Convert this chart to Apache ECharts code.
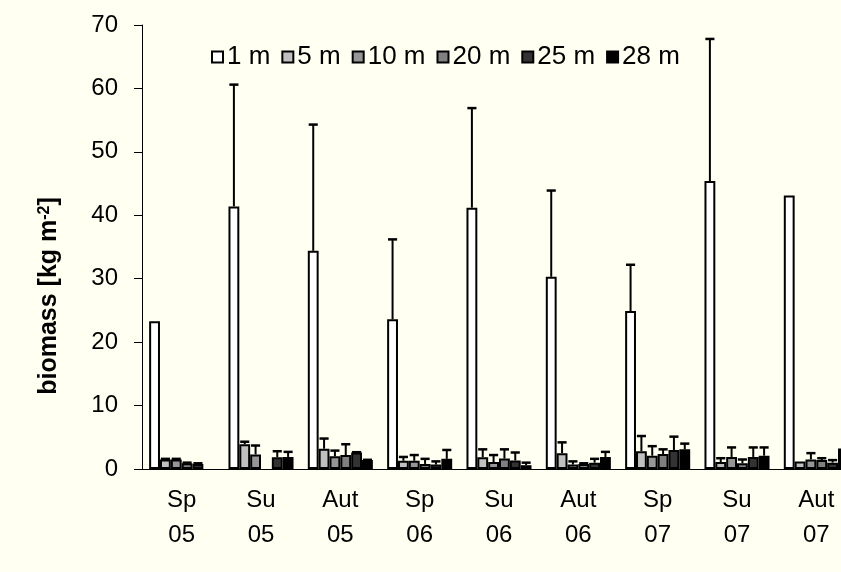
<!DOCTYPE html>
<html>
<head>
<meta charset="utf-8">
<script src="https://cdn.jsdelivr.net/npm/echarts@6/dist/echarts.min.js"></script>
<style>
html,body{margin:0;padding:0;background:#fffff2;overflow:hidden;width:841px;height:572px;}
#c{width:856px;height:572px;}
</style>
</head>
<body>
<div id="c"></div>
<script>
// ---- data ----
const categories = ['Sp\n05','Su\n05','Aut\n05','Sp\n06','Su\n06','Aut\n06','Sp\n07','Su\n07','Aut\n07'];
const depthNames = ['1 m','5 m','10 m','20 m','25 m','28 m'];
const yTicks = [0,10,20,30,40,50,60,70];

const m1  = [23.3, 41.4, 34.4, 23.6, 41.2, 30.3, 24.9, 45.4, 43.1];
const m5  = [1.5, 3.9, 3.2, 1.3, 1.85, 2.5, 2.8, 1.1, 1.2];
const m10 = [1.5, 2.3, 2.0, 1.3, 1.1, 0.7, 2.1, 1.9, 1.5];
const m20 = [0.9, null, 2.2, 0.8, 1.65, 0.8, 2.35, 0.9, 1.4];
const m25 = [0.8, 1.85, 2.6, 0.7, 1.35, 1.0, 3.0, 1.9, 1.0];
const m28 = [null, 1.9, 1.4, 1.6, 0.6, 1.9, 3.1, 2.1, 3.25];

// upper error (SD) for each depth
const e1  = [0, 19.2, 19.9, 12.6, 15.7, 13.6, 7.3, 22.4, 0];
const e5  = [0.1, 0.4, 1.6, 0.6, 1.25, 1.7, 2.4, 0.6, 0];
const e10 = [0.1, 1.4, 0.9, 0.9, 1.1, 0.5, 1.5, 1.5, 1.0];
const e20 = [0.1, null, 1.7, 0.8, 1.45, 0.1, 0.75, 0.6, 0.3];
const e25 = [0.1, 0.95, 0.05, 0.5, 1.25, 0.6, 2.1, 1.5, 0.4];
const e28 = [null, 0.8, 0.05, 1.4, 0.4, 0.8, 0.9, 1.3, 0];

const values = [m1, m5, m10, m20, m25, m28];
const errors = [e1, e5, e10, e20, e25, e28];
const colors = ['#ffffff','#c0c0c0','#969696','#808080','#333333','#000000'];

// ---- chart ----
const GAP = 0.18;
const FONT = '"Liberation Sans", Arial, sans-serif';
const chart = echarts.init(document.getElementById('c'), null, {renderer:'canvas'});

const barSeries = values.map((arr, i) => ({
  name: depthNames[i],
  type: 'bar',
  data: arr.map(v => v == null ? '-' : v),
  barGap: '0%',
  barCategoryGap: (GAP*100) + '%',
  itemStyle: {color: colors[i], borderColor: '#000', borderWidth: 2},
  emphasis: {disabled: true}
}));

const errData = [];
values.forEach((arr, si) => {
  arr.forEach((v, ci) => {
    const e = errors[si][ci];
    if (v != null && e != null && e > 0) errData.push([ci, si, v, e]);
  });
});

function renderErr(params, api) {
  const ci = api.value(0), si = api.value(1), v = api.value(2), e = api.value(3);
  const base = api.coord([ci, v]);
  const top = api.coord([ci, v + e]);
  const band = api.size([1, 0])[0];
  const inner = band * (1 - GAP);
  const bw = inner / 6;
  const x = base[0] - inner / 2 + bw * (si + 0.5);
  const hw = bw * 0.42;
  return {
    type: 'group',
    children: [
      {type:'line', shape:{x1:x, y1:base[1], x2:x, y2:top[1]}, style:{stroke:'#000', lineWidth:2}},
      {type:'line', shape:{x1:x-hw, y1:top[1], x2:x+hw, y2:top[1]}, style:{stroke:'#000', lineWidth:2.5}}
    ]
  };
}

chart.setOption({
  backgroundColor: '#fffff2',
  animation: false,
  textStyle: {fontFamily: FONT, color: '#000'},
  legend: {
    data: depthNames,
    left: 211, top: 44, padding: 0,
    itemWidth: 11, itemHeight: 11, itemGap: 11,
    icon: 'rect',
    textStyle: {fontSize: 26, color: '#000', fontFamily: FONT, padding: [0,0,0,-1]},
    selectedMode: false
  },
  grid: {left: 142, top: 25, right: 0, bottom: 103, containLabel: false},
  xAxis: {
    type: 'category',
    data: categories,
    axisLine: {lineStyle: {color: '#000', width: 1}},
    axisTick: {show: false},
    axisLabel: {interval: 0, fontSize: 24, lineHeight: 35, margin: 14, color: '#000', fontFamily: FONT},
    splitLine: {show: false}
  },
  yAxis: {
    type: 'value',
    min: yTicks[0], max: yTicks[yTicks.length-1], interval: 10,
    axisLine: {show: true, lineStyle: {color: '#000', width: 1}},
    axisTick: {show: true, length: 8, lineStyle: {color: '#000'}},
    axisLabel: {fontSize: 24, margin: 24, color: '#000', fontFamily: FONT},
    splitLine: {show: false},
    name: '{b|biomass [kg m}{s|-2}{b|]}',
    nameLocation: 'middle',
    nameGap: 80,
    nameTextStyle: {
      padding: [0, 98, 0, 0],
      rich: {
        b: {fontSize: 25, fontWeight: 'bold', color: '#000', fontFamily: FONT},
        s: {fontSize: 16, fontWeight: 'bold', color: '#000', fontFamily: FONT, verticalAlign: 'top'}
      }
    }
  },
  series: barSeries.concat([{
    type: 'custom',
    name: 'err',
    renderItem: renderErr,
    data: errData,
    encode: {x: 0, y: 2},
    z: 5,
    silent: true
  }])
});
</script>
</body>
</html>
